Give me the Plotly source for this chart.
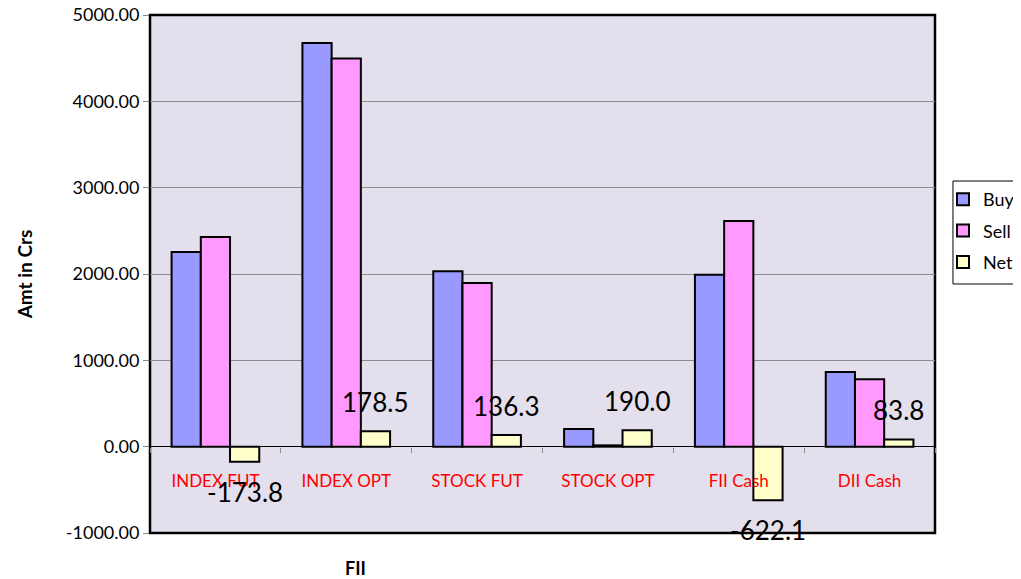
import plotly.graph_objects as go

categories = ["INDEX FUT", "INDEX OPT", "STOCK FUT", "STOCK OPT", "FII Cash", "DII Cash"]
buy = [2255.0, 4675.0, 2031.0, 205.0, 1992.0, 866.0]
sell = [2428.8, 4496.5, 1894.7, 15.0, 2614.1, 782.2]
net = [-173.8, 178.5, 136.3, 190.0, -622.1, 83.8]
y_ticks = [-1000, 0, 1000, 2000, 3000, 4000, 5000]

YMIN, YMAX = -1000, 5000
BARGAP = 0.33
FONT = "Lato, Open Sans, sans-serif"

fig = go.Figure()
series = [("Buy", buy, "#9999FF"), ("Sell", sell, "#FF99FF"), ("Net", net, "#FFFFCC")]
for name, vals, col in series:
    fig.add_trace(go.Bar(
        x=categories, y=vals, name=name, legendgroup=name,
        marker=dict(color=col, line=dict(color="black", width=2)),
    ))

# data labels on Net bars
offset = (1 - BARGAP) / 3
for i, v in enumerate(net):
    fig.add_annotation(
        x=i + offset, y=v, xref="x", yref="y",
        text=f"{v:.1f}", showarrow=False,
        xanchor="center", yanchor="middle",
        yshift=29 if v >= 0 else -30,
        font=dict(family=FONT, size=26, color="black"),
    )

# x-axis title
fig.add_annotation(
    x=0.262, y=-0.068, xref="paper", yref="paper", text="<b>FII</b>",
    xanchor="center", yanchor="middle",
    showarrow=False, font=dict(family=FONT, size=18, color="black"),
)

# plot frame
fig.add_shape(type="rect", xref="paper", yref="paper", x0=0, y0=0, x1=1, y1=1,
              line=dict(color="black", width=2.5), layer="below")
# legend frame (open on the right, runs past the edge)
fig.add_shape(type="rect", xref="paper", yref="paper", x0=1.0229, y0=0.4807, x1=1.2, y1=0.6795,
              line=dict(color="black", width=1), fillcolor="rgba(0,0,0,0)", layer="below")

fig.update_layout(
    width=1013, height=571,
    margin=dict(l=142, r=86, t=7, b=46, autoexpand=False),
    paper_bgcolor="white", plot_bgcolor="#E4DFEC",
    bargap=BARGAP, bargroupgap=0,
    font=dict(family=FONT, size=16, color="black"),
    legend=dict(
        x=1.0102, y=0.6795, xanchor="left", yanchor="top",
        borderwidth=0, bgcolor="rgba(0,0,0,0)",
        font=dict(family=FONT, size=18, color="black"),
        traceorder="grouped", tracegroupgap=5,
    ),
    xaxis=dict(
        type="category", anchor="free", position=(0 - YMIN) / (YMAX - YMIN),
        showline=False, showgrid=False, automargin=False,
        ticks="outside", tickson="boundaries", ticklen=5, tickcolor="#888888",
        ticklabelstandoff=22,
        tickfont=dict(family=FONT, size=17, color="red"),
    ),
    yaxis=dict(
        range=[YMIN, YMAX], tickvals=y_ticks, ticktext=[f"{v:.2f}" for v in y_ticks],
        automargin=False, ticklabeloverflow="allow",
        showgrid=True, gridcolor="#8C8C8C", gridwidth=1,
        zeroline=True, zerolinecolor="black", zerolinewidth=1,
        ticks="outside", ticklen=6, tickcolor="#888888",
        tickfont=dict(family=FONT, size=18, color="black"),
        title=dict(text="<b>Amt in Crs</b>", font=dict(family=FONT, size=19), standoff=28),
    ),
)

fig.write_html("out.html")
